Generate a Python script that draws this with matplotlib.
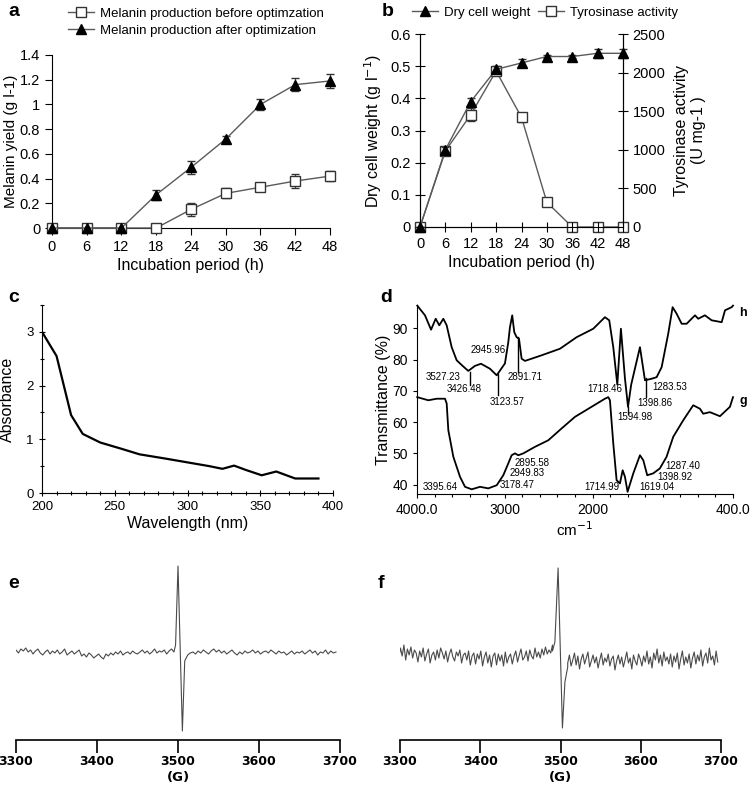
import numpy as np
import matplotlib
matplotlib.use("Agg")
import matplotlib.pyplot as plt
from matplotlib.lines import Line2D
from matplotlib.ticker import FuncFormatter, MultipleLocator

plt.rcParams['font.family'] = ['Liberation Sans', 'DejaVu Sans']

# --- panel a: melanin yield ---
hours = [0, 6, 12, 18, 24, 30, 36, 42, 48]
mel_before = [0, 0, 0, 0, 0.15, 0.28, 0.33, 0.38, 0.42]
mel_before_err = [0, 0, 0, 0, 0.05, 0.04, 0.03, 0.06, 0.04]
mel_after = [0, 0, 0, 0.27, 0.49, 0.72, 1.00, 1.16, 1.19]
mel_after_err = [0, 0, 0, 0.04, 0.05, 0.025, 0.045, 0.055, 0.055]

# --- panel b: dry cell weight / tyrosinase ---
dcw = [0, 0.24, 0.39, 0.49, 0.51, 0.53, 0.53, 0.54, 0.54]
dcw_err = [0, 0.008, 0.01, 0.01, 0.012, 0.006, 0.006, 0.014, 0.014]
tyro = [0, 985, 1455, 2020, 1420, 320, 0, 0, 0]
tyro_err = [0, 45, 85, 40, 55, 30, 0, 0, 0]

# --- panel c: UV spectrum ---
wavelength = [200, 210, 220, 228, 240, 255, 267, 285, 300, 315, 324, 332, 340, 351, 361, 374, 390]
absorbance = [3.0, 2.55, 1.45, 1.1, 0.94, 0.82, 0.72, 0.64, 0.57, 0.50, 0.45, 0.51, 0.43, 0.33, 0.40, 0.27, 0.27]

# --- panel d: FTIR spectra ---
h_wn = [3997, 3909, 3840, 3787, 3746, 3700, 3662, 3605, 3548, 3480, 3416, 3340, 3271, 3169,
        3092, 2998, 2960, 2941, 2915, 2892, 2865, 2838, 2808, 2770, 2580, 2371, 2181, 1992,
        1859, 1810, 1764, 1718, 1677, 1631, 1596, 1560, 1460, 1403, 1327, 1270, 1213, 1138,
        1088, 1042, 985, 928, 833, 796, 720, 643, 529, 491, 415, 400]
h_T = [97.3, 94.2, 89.6, 93.1, 91.0, 93.1, 91.0, 84.0, 79.8, 78.0, 76.4, 78.0, 78.7, 77.1,
       75.0, 78.8, 85.6, 90.4, 94.2, 88.8, 87.2, 86.7, 80.3, 79.6, 81.4, 83.5, 87.2, 89.9,
       93.6, 92.6, 84.0, 72.0, 89.9, 74.0, 64.9, 72.0, 84.0, 73.4, 73.9, 74.4, 77.6, 88.3,
       96.8, 94.7, 91.5, 91.5, 94.2, 93.1, 94.2, 92.6, 92.0, 95.8, 96.8, 97.3]
g_wn = [3997, 3871, 3776, 3681, 3662, 3643, 3586, 3510, 3453, 3377, 3282, 3188, 3092, 3017,
        2960, 2922, 2884, 2846, 2789, 2656, 2504, 2352, 2200, 1859, 1821, 1802, 1764, 1726,
        1688, 1657, 1631, 1601, 1536, 1460, 1422, 1377, 1309, 1233, 1157, 1081, 967, 853,
        777, 739, 663, 549, 435, 400]
g_T = [68.0, 67.0, 67.5, 67.5, 66.0, 57.4, 48.9, 42.5, 39.3, 38.5, 39.3, 38.8, 39.8, 43.0,
       46.8, 49.4, 50.0, 49.4, 50.0, 52.1, 54.2, 58.0, 61.7, 67.5, 68.0, 67.0, 53.2, 41.4,
       40.4, 44.6, 42.5, 37.7, 43.6, 49.4, 47.8, 43.0, 43.6, 45.2, 48.9, 55.3, 60.6, 65.4,
       64.3, 62.7, 63.2, 61.9, 64.9, 68.0]
# peak labels: text, label x (cm-1), label y (%)
h_peaks = [("3527.23", 3707, 74.4), ("3426.48", 3465, 70.5), ("3123.57", 2978, 66.4),
           ("2945.96", 3191, 83.0), ("2891.71", 2770, 74.3), ("1718.46", 1859, 70.5),
           ("1594.98", 1517, 61.7), ("1398.86", 1289, 66.1), ("1283.53", 1118, 71.2)]
g_peaks = [("3395.64", 3738, 39.1), ("3178.47", 2864, 39.8), ("2895.58", 2694, 46.8),
           ("2949.83", 2750, 43.6), ("1714.99", 1896, 39.1), ("1619.04", 1270, 39.1),
           ("1398.92", 1061, 42.3), ("1287.40", 967, 46.0)]
# marker lines: x, y from, y to
h_marks = [(3396, 75.9, 71.8), (3081, 75.3, 68.6), (2853, 87.4, 75.9), (1395, 74.0, 68.0),
           (1597, 64.9, 62.6)]

# --- panels e, f: EPR spectra (arbitrary units) ---
e_left = [1, 3, 0, 4, 2, 5, 1, 3, -1, 2, 4, 0, -2, 1, 3, -1, 2, 0, 3, -1, 1, 4, -2, 0, 2,
          -1, 1, 3, -3, -1, -4, 0, -2, -5, -3, -1, -4, -6, -1, -3, 0, -2, 1, -1, 2, -2, 0,
          1, -1, 2, 0, -1, 1, 3, 0, 2, -1, 1, 4, 0, 2, 1, 3, -1, 2, 4, 1]
e_sig_field = [3495, 3497, 3500, 3505.4, 3508.3, 3512]
e_sig = [1, 8, 87, -78, -8, -2]
e_right = [-2, 0, 1, -1, 2, 0, 3, 1, -1, 2, 4, 1, 3, 0, 2, -1, 1, 3, 0, -2, 1, -1, 2, 0,
           1, 3, 0, 2, -1, 1, 2, 0, 3, 1, -1, 2, 0, 1, -2, 0, 2, -1, 1, 0, 2, -1, 1, 3, 0,
           2, -2, 1, 0, 3, -1, 2, 0, 1]
f_left = [-4, 6, -2, 9, 1, 12, -3, 8, 2, 10, -1, 7, 4, -5, 6, 0, 9, -4, 3, 8, -6, 2, 5,
          -3, 7, -1, 9, 4, -2, 6, -5, 3, 8, 0, -4, 5, 1, 7, -6, 2, 4, -3, 6, -8, 1, 4, -7,
          3, -2, 6, -9, 0, 5, -6, 2, -10, 1, 4, -8, 3, -4, 2, -9, 5, -6, 0, 3, -7, 1, 6,
          -5, 2, 8, -3, 0, 6, -4, 7, 1, -2, 9, 0, 5, -1, 8, 2, 10, 3, 7, 4, 12]
f_sig_field = [3490, 3493, 3497, 3502.4, 3505.5, 3509]
f_sig = [6, 15, 89, -71, -25, -10]
f_right = [-6, 2, -9, -3, 4, -8, 1, -12, -2, 3, -7, -1, 5, -10, -4, 2, -6, 0, -11, -3, 4,
           -8, -1, -5, 3, -9, -2, 1, -13, -4, 2, -7, 0, -10, -3, 5, -6, -1, -12, 2, -4, -8,
           3, -2, -9, 1, -5, 6, -7, 0, -11, 4, -3, 8, -6, 2, -9, 5, -4, 0, -7, 3, -10, 1,
           -5, 4, -12, -2, 6, -8, 0, -6, 3, -11, -1, 5, -7, 2, -4, 7, -9, 0, 4, -6, 9, -3,
           1, -8, 6, -5]

W, H = 750, 797
fig = plt.figure(figsize=(W / 100, H / 100), dpi=100)


def px_axes(left, top, right, bottom):
    return fig.add_axes([left / W, 1 - bottom / H, (right - left) / W, (bottom - top) / H])


LINE = '#5a5a5a'
fmt_g = FuncFormatter(lambda v, p: '%g' % v)

# ---------------- a ----------------
ax = px_axes(52, 55, 330, 228)
ax.errorbar(hours, mel_before, yerr=mel_before_err, color=LINE, lw=1, marker='s', ms=7,
            mfc='white', mec='#333333', mew=1, ecolor='#333333', elinewidth=0.8, capsize=3,
            clip_on=False, zorder=3)
ax.errorbar(hours, mel_after, yerr=mel_after_err, color=LINE, lw=1, marker='^', ms=7,
            mfc='black', mec='black', ecolor='#333333', elinewidth=0.8, capsize=3,
            clip_on=False, zorder=3)
ax.set_xlim(0, 48)
ax.set_ylim(0, 1.4)
ax.set_xticks(hours)
ax.set_yticks(np.arange(0, 1.41, 0.2))
ax.yaxis.set_major_formatter(fmt_g)
for s in ['top', 'right']:
    ax.spines[s].set_visible(False)
ax.tick_params(direction='out', length=5, labelsize=10.5, width=0.8)
ax.set_xlabel('Incubation period (h)', fontsize=11.5, labelpad=3)
ax.set_ylabel('Melanin yield (g l-1)', fontsize=11, labelpad=1)
h1 = Line2D([], [], color=LINE, lw=1, marker='s', ms=7, mfc='white', mec='#333333')
h2 = Line2D([], [], color=LINE, lw=1, marker='^', ms=7, mfc='black', mec='black')
fig.legend([h1, h2], ['Melanin production before optimzation',
                      'Melanin production after optimization'],
           loc='upper left', bbox_to_anchor=(56 / W, 1 + 4 / H), frameon=False,
           fontsize=9.5, handlelength=2.0, handletextpad=0.4, labelspacing=0.35)

# ---------------- b ----------------
ax = px_axes(420, 34, 623, 227)
ax2 = ax.twinx()
ax2.errorbar(hours, tyro, yerr=tyro_err, color=LINE, lw=1, marker='s', ms=7, mfc='white',
             mec='#333333', mew=1, ecolor='#333333', elinewidth=0.8, capsize=3,
             clip_on=False, zorder=3)
ax.errorbar(hours, dcw, yerr=dcw_err, color=LINE, lw=1, marker='^', ms=7, mfc='black',
            mec='black', ecolor='#333333', elinewidth=0.8, capsize=3, clip_on=False, zorder=4)
ax.set_zorder(ax2.get_zorder() + 1)
ax.patch.set_visible(False)
ax.set_xlim(0, 48)
ax.set_ylim(0, 0.6)
ax2.set_ylim(0, 2500)
ax.set_xticks(hours)
ax.set_yticks(np.arange(0, 0.61, 0.1))
ax.yaxis.set_major_formatter(fmt_g)
ax2.set_yticks(np.arange(0, 2501, 500))
for a_ in (ax, ax2):
    a_.spines['top'].set_visible(False)
    a_.tick_params(direction='inout', length=7, labelsize=10.5, width=0.8)
ax.set_xlabel('Incubation period (h)', fontsize=11.5, labelpad=3)
ax.set_ylabel('Dry cell weight (g l$^{-1}$)', fontsize=11.5, labelpad=4)
ax2.set_ylabel('Tyrosinase activity\n(U mg-1 )', fontsize=11.5, labelpad=6)
fig.legend([h2, h1], ['Dry cell weight', 'Tyrosinase activity'], loc='upper left',
           bbox_to_anchor=(400 / W, 1 + 5 / H), frameon=False, ncol=2, fontsize=9.5,
           handlelength=2.0, handletextpad=0.4, columnspacing=0.6)

# ---------------- c ----------------
ax = px_axes(42, 305, 333, 493)
ax.plot(wavelength, absorbance, color='black', lw=1.6)
ax.set_xlim(200, 400)
ax.set_ylim(0, 3.5)
ax.set_xticks([200, 250, 300, 350, 400])
ax.set_yticks([0, 1, 2, 3])
ax.xaxis.set_minor_locator(MultipleLocator(10))
ax.yaxis.set_minor_locator(MultipleLocator(0.5))
for s in ['top', 'right']:
    ax.spines[s].set_visible(False)
ax.tick_params(which='both', direction='inout', length=5, width=0.8, labelsize=9.5)
ax.tick_params(which='minor', length=3)
ax.set_xlabel('Wavelength (nm)', fontsize=11.5, labelpad=2)
ax.set_ylabel('Absorbance', fontsize=11.5, labelpad=8)

# ---------------- d ----------------
ax = px_axes(417, 305, 733, 494)
ax.plot(h_wn, h_T, color='black', lw=1.3, clip_on=False)
ax.plot(g_wn, g_T, color='black', lw=1.3, clip_on=False)
for txt, x, y in h_peaks + g_peaks:
    ax.text(x, y, txt, fontsize=7, ha='center', va='center')
for x, y0, y1 in h_marks:
    ax.plot([x, x], [y0, y1], color='black', lw=1)
ax.text(1.02, 0.96, 'h', transform=ax.transAxes, fontsize=9, fontweight='bold',
        ha='left', va='center')
ax.text(1.02, 0.49, 'g', transform=ax.transAxes, fontsize=9, fontweight='bold',
        ha='left', va='center')
ax.set_xlim(4000, 400)
ax.set_ylim(37, 97.5)
ax.set_xticks([4000, 3000, 2000, 400], labels=['4000.0', '3000', '2000', '400.0'])
ax.xaxis.set_minor_locator(MultipleLocator(200))
ax.set_yticks([40, 50, 60, 70, 80, 90])
for s in ['top', 'right']:
    ax.spines[s].set_visible(False)
ax.tick_params(which='both', direction='out', length=3, width=0.8, labelsize=10)
ax.tick_params(which='minor', length=2)
ax.set_xlabel('cm$^{-1}$', fontsize=11, labelpad=2)
ax.set_ylabel('Transmittance (%)', fontsize=11.5, labelpad=1)

# ---------------- e, f ----------------
def epr(ax, left, sig_field, sig, right, start, end, ylo, yhi):
    xl = np.linspace(start, sig_field[0], len(left))
    xr = np.linspace(sig_field[-1], end, len(right))
    x = np.concatenate([xl, sig_field, xr])
    y = np.concatenate([left, sig, right])
    ax.plot(x, y, color='#4a4a4a', lw=0.8)
    ax.set_xlim(3300, 3700)
    ax.set_ylim(ylo, yhi)
    ax.set_xticks([3300, 3400, 3500, 3600, 3700])
    ax.set_yticks([])
    for s in ['top', 'right', 'left']:
        ax.spines[s].set_visible(False)
    ax.spines['bottom'].set_linewidth(1.2)
    ax.tick_params(direction='out', length=9, width=1.2, labelsize=9, pad=2)
    for lab in ax.get_xticklabels():
        lab.set_fontweight('bold')
        lab.set_family('DejaVu Sans')
    ax.set_xlabel('(G)', fontsize=9.5, fontweight='bold', family='DejaVu Sans', labelpad=2)


ax = px_axes(16, 555, 340, 740)
epr(ax, e_left, e_sig_field, e_sig, e_right, 3297, 3695, -87, 98)
ax = px_axes(400, 555, 721, 740)
epr(ax, f_left, f_sig_field, f_sig, f_right, 3294, 3696, -83, 102)

# panel letters
for letter, x, y in [('a', 8, 12), ('b', 382, 12), ('c', 8, 298), ('d', 380, 298),
                     ('e', 8, 583), ('f', 378, 583)]:
    fig.text(x / W, 1 - y / H, letter, fontsize=14, fontweight='bold', ha='left', va='center')

fig.savefig('out.png', dpi=100)
